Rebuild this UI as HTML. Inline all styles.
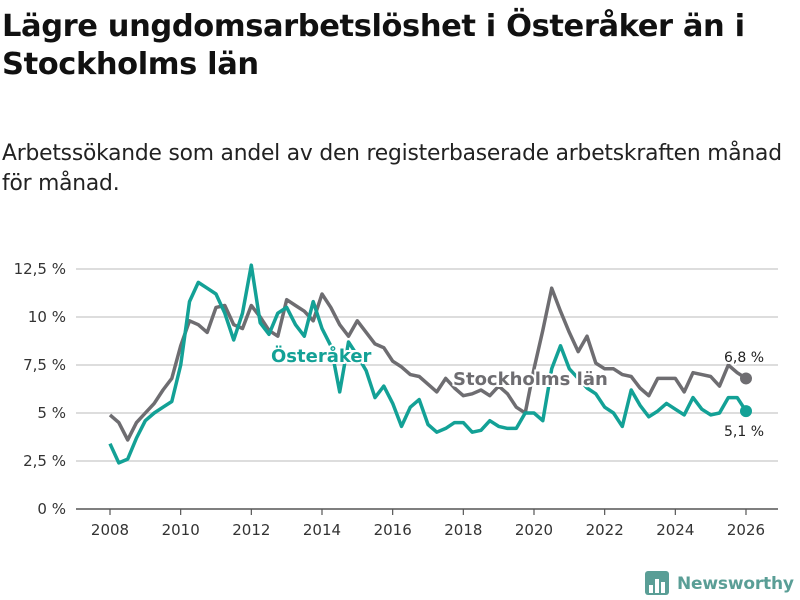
<!DOCTYPE html>
<html><head><meta charset="utf-8"><style>
body{margin:0;width:800px;height:600px;background:#fff;font-family:"Liberation Sans","DejaVu Sans",sans-serif;overflow:hidden;position:relative}
h1{position:absolute;left:2px;top:8px;margin:0;font-size:30.5px;line-height:38px;font-weight:bold;color:#111;font-family:"DejaVu Sans",sans-serif;letter-spacing:-0.4px;white-space:nowrap}
p{position:absolute;left:2px;top:139px;margin:0;font-size:21.8px;line-height:30px;color:#222;font-family:"DejaVu Sans",sans-serif;letter-spacing:-0.2px;white-space:nowrap}
svg{position:absolute;left:0;top:0}
</style></head><body>
<h1>Lägre ungdomsarbetslöshet i Österåker än i<br>Stockholms län</h1>
<p>Arbetssökande som andel av den registerbaserade arbetskraften månad<br>för månad.</p>
<svg id="chart" width="800" height="600"></svg>
<script>
const years=[2008,2010,2012,2014,2016,2018,2020,2022,2024,2026];
const yTicks=[0,2.5,5,7.5,10,12.5];
const yTickLabels=["0 %","2,5 %","5 %","7,5 %","10 %","12,5 %"];
const startYear=2008, stepYears=0.25;
const stockholm=[4.9,4.5,3.6,4.5,5.0,5.5,6.2,6.8,8.5,9.8,9.6,9.2,10.5,10.6,9.6,9.4,10.6,10.0,9.3,9.0,10.9,10.6,10.3,9.8,11.2,10.5,9.6,9.0,9.8,9.2,8.6,8.4,7.7,7.4,7.0,6.9,6.5,6.1,6.8,6.3,5.9,6.0,6.2,5.9,6.4,6.0,5.3,5.0,7.3,9.3,11.5,10.3,9.2,8.2,9.0,7.6,7.3,7.3,7.0,6.9,6.3,5.9,6.8,6.8,6.8,6.1,7.1,7.0,6.9,6.4,7.5,7.1,6.8];
const osteraker=[3.4,2.4,2.6,3.7,4.6,5.0,5.3,5.6,7.5,10.8,11.8,11.5,11.2,10.2,8.8,10.2,12.7,9.7,9.1,10.2,10.5,9.6,9.0,10.8,9.4,8.5,6.1,8.7,8.0,7.2,5.8,6.4,5.5,4.3,5.3,5.7,4.4,4.0,4.2,4.5,4.5,4.0,4.1,4.6,4.3,4.2,4.2,5.0,5.0,4.6,7.3,8.5,7.3,6.8,6.3,6.0,5.3,5.0,4.3,6.2,5.4,4.8,5.1,5.5,5.2,4.9,5.8,5.2,4.9,5.0,5.8,5.8,5.1];
const endLabels=["6,8 %","5,1 %"];
const NS="http://www.w3.org/2000/svg";
const svg=document.getElementById('chart');
const X=y=>110+(y-2008)*35.333;
const Y=v=>509-v*19.2;
function mk(t,a,txt){const e=document.createElementNS(NS,t);for(const k in a)e.setAttribute(k,a[k]);if(txt!==undefined)e.textContent=txt;svg.appendChild(e);return e;}
const F='"DejaVu Sans",sans-serif';
yTicks.forEach((v,i)=>{
 const g=mk('line',{x1:76,x2:778,y1:Y(v),y2:Y(v),stroke:v===0?'#555':'#ddd','stroke-width':v===0?1.5:2});
 
 
 const t=mk('text',{x:66,y:Y(v)+5,'text-anchor':'end','font-size':15,fill:'#333','font-family':F},yTickLabels[i]);
 
 
});
years.forEach(y=>{
 const l=mk('line',{x1:X(y),x2:X(y),y1:509,y2:515,stroke:'#555','stroke-width':1.2});
 
 
 const t=mk('text',{x:X(y),y:535,'text-anchor':'middle','font-size':15,fill:'#333','font-family':F},String(y));
 
 
});
function line(data,color,name){
 const d=data.map((v,i)=>(i?'L':'M')+X(startYear+i*stepYears).toFixed(1)+','+Y(v).toFixed(1)).join('');
 const p=mk('path',{d:d,fill:'none',stroke:color,'stroke-width':3.5,'stroke-linejoin':'round'});
 
 
 const n=data.length-1;
 const c=mk('circle',{cx:X(startYear+n*stepYears),cy:Y(data[n]),r:6,fill:color});
 
 
}
line(stockholm,'#6e6d71','stockholm-line');
line(osteraker,'#13a196','osteraker-line');
function lbl(x,y,txt,col,name,size,weight){
 const t=mk('text',{x:x,y:y,'font-size':size,'font-weight':weight,fill:col,stroke:'#fff','stroke-width':4,'paint-order':'stroke','font-family':F},txt);
 
 
}
lbl(271,362,'Österåker','#13a196','osteraker-label',18,'bold');
lbl(453,385,'Stockholms län','#6e6d71','stockholm-label',18,'bold');
lbl(724,362,endLabels[0],'#222','stockholm-end-label',14,'normal');
lbl(724,436,endLabels[1],'#222','osteraker-end-label',14,'normal');
const lg=mk('g',{});


const r=document.createElementNS(NS,'rect');
[['x',645],['y',571],['width',24],['height',24],['rx',3],['fill','#5a9e96']].forEach(a=>r.setAttribute(a[0],a[1]));lg.appendChild(r);
[[649,585,4,8],[655,579,4,14],[661,582,4,11]].forEach(b=>{const e=document.createElementNS(NS,'rect');e.setAttribute('x',b[0]);e.setAttribute('y',b[1]);e.setAttribute('width',b[2]);e.setAttribute('height',b[3]);e.setAttribute('fill','#fff');lg.appendChild(e);});
const lt=document.createElementNS(NS,'text');
lt.setAttribute('x',677);lt.setAttribute('y',589);lt.setAttribute('font-size',17);lt.setAttribute('font-weight','bold');lt.setAttribute('fill','#5a9e96');lt.setAttribute('font-family',F);lt.setAttribute('textLength',117);lt.textContent='Newsworthy';lg.appendChild(lt);
</script>
</body></html>
